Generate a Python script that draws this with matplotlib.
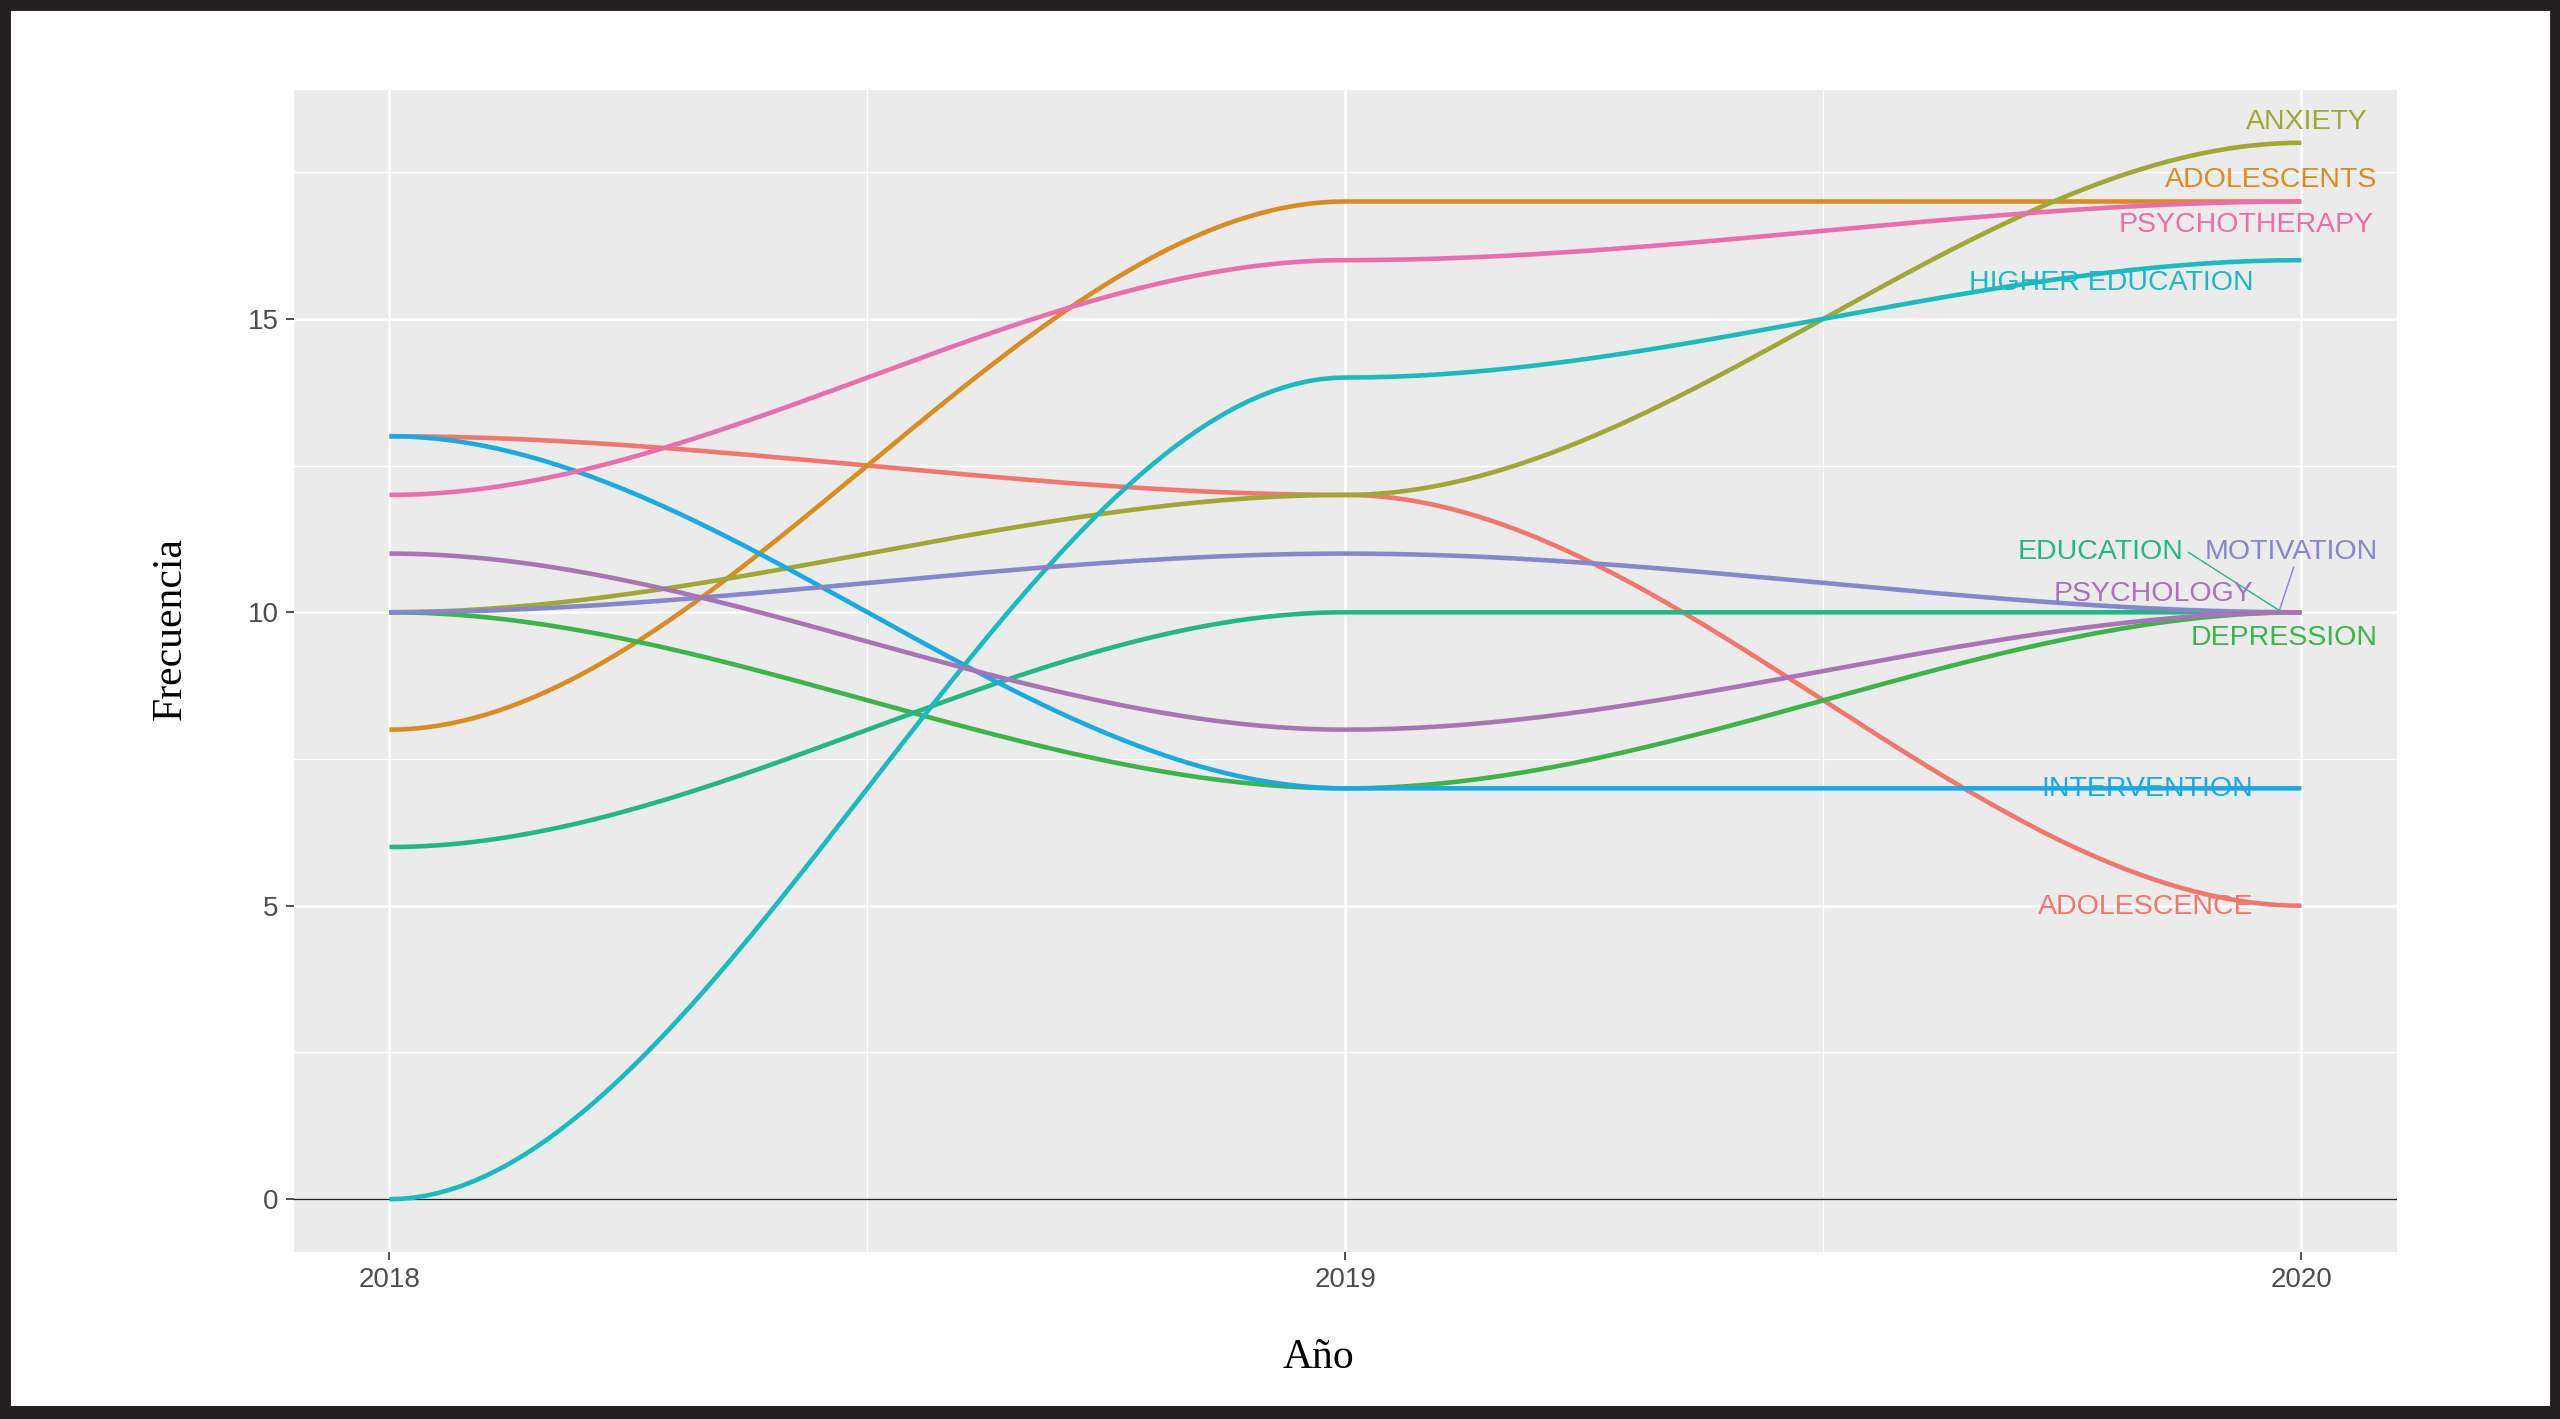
import numpy as np
import matplotlib
matplotlib.use("Agg")
import matplotlib.pyplot as plt
from matplotlib.patches import Rectangle

years = [2018, 2019, 2020]
terms = ["ADOLESCENCE", "ADOLESCENTS", "ANXIETY", "DEPRESSION", "EDUCATION",
         "HIGHER EDUCATION", "INTERVENTION", "MOTIVATION", "PSYCHOLOGY",
         "PSYCHOTHERAPY"]
freq_2018 = [13, 8, 10, 10, 6, 0, 13, 10, 11, 12]
freq_2019 = [12, 17, 12, 7, 10, 14, 7, 11, 8, 16]
freq_2020 = [5, 17, 18, 10, 10, 16, 7, 10, 10, 17]
colors = ["#F2766B", "#D98C1F", "#A0A733", "#3BB44A", "#22B884",
          "#19BBC1", "#1AAAE2", "#8686CC", "#A874B6", "#EB6DA9"]

# label placement (right edge x, centre y) as repel left them
label_x = [2019.95, 2020.08, 2020.07, 2020.08, 2019.877,
           2019.95, 2019.95, 2020.08, 2019.95, 2020.076]
label_y = [4.98, 17.36, 18.35, 9.57, 11.02, 15.61, 6.99, 11.02, 10.31, 16.6]


def bump(xs, ys, n=80):
    # smooth step between consecutive points, like geom_bump
    out_x, out_y = [], []
    for i in range(len(xs) - 1):
        t = np.linspace(0, 1, n)
        s = 3 * t ** 2 - 2 * t ** 3
        out_x.append(xs[i] + t * (xs[i + 1] - xs[i]))
        out_y.append(ys[i] + s * (ys[i + 1] - ys[i]))
    return np.concatenate(out_x), np.concatenate(out_y)


fig = plt.figure(figsize=(25.6, 14.19), dpi=100)
ax = fig.add_axes([0.1148, 0.1177, 0.8215, 0.8189])
ax.set_facecolor("#EBEBEB")
for s in ax.spines.values():
    s.set_visible(False)

ax.set_xlim(2017.9, 2020.1)
ax.set_ylim(-0.9, 18.9)
ax.set_xticks(years)
ax.set_xticks([2018.5, 2019.5], minor=True)
ax.set_yticks([0, 5, 10, 15])
ax.set_yticks([2.5, 7.5, 12.5, 17.5], minor=True)
ax.grid(which="major", color="white", linewidth=1.8)
ax.grid(which="minor", color="white", linewidth=0.9)
ax.set_axisbelow(True)
ax.tick_params(which="major", length=6, width=1.2, color="#333333",
               labelsize=20, labelcolor="#4D4D4D", pad=5)
ax.tick_params(which="minor", length=0)
for lab in ax.get_xticklabels() + ax.get_yticklabels():
    lab.set_family("Liberation Sans")

ax.axhline(0, color="#222222", linewidth=1.0, zorder=2)

for i, term in enumerate(terms):
    vals = [freq_2018[i], freq_2019[i], freq_2020[i]]
    bx, by = bump(years, vals)
    ax.plot(bx, by, color=colors[i], linewidth=3.3, solid_capstyle="butt",
            zorder=3 + i * 0.01)
    ax.text(label_x[i], label_y[i], term, color=colors[i], fontsize=20.5,
            family="Liberation Sans", ha="right", va="center", zorder=5)

# repel segments for the two crowded labels
ax.plot([2019.882, 2019.977], [11.02, 10.03], color=colors[4], linewidth=1.0, zorder=4)
ax.plot([2019.992, 2019.977], [10.77, 10.03], color=colors[7], linewidth=1.0, zorder=4)

fig.text(0.0668, 0.557, "Frecuencia", rotation=90, ha="center", va="center",
         fontsize=30, family="Liberation Serif", color="black")
fig.text(0.515, 0.043, "Año", ha="center", va="center",
         fontsize=30, family="Liberation Serif", color="black")

fig.patches.append(Rectangle((0, 0), 1, 1, transform=fig.transFigure, fill=False,
                             edgecolor="#231F20", linewidth=15))
# the bottom edge of the frame is a little heavier
fig.patches.append(Rectangle((0, 0), 1, 0.009, transform=fig.transFigure,
                             facecolor="#231F20", edgecolor="none"))

fig.savefig("out.png", dpi=100, facecolor="white")
